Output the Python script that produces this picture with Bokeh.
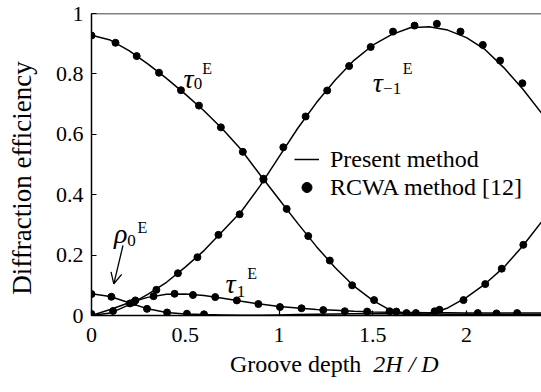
from bokeh.plotting import figure
from bokeh.layouts import column
from bokeh.models import (Range1d, Span, Label, Arrow, OpenHead, Legend, LegendItem,
                          FixedTicker, Div)
from bokeh.embed import file_html
from bokeh.resources import INLINE

# ---- Present method (lines) ----
line_x = [0, 0.1, 0.2, 0.3, 0.4, 0.5, 0.6, 0.7, 0.8, 0.9, 1.0, 1.1, 1.2, 1.3, 1.4, 1.5,
          1.6, 1.7, 1.8, 1.9, 2.0, 2.1, 2.2, 2.3, 2.4]
tau0_line = [0.928, 0.912, 0.877, 0.833, 0.785, 0.733, 0.678, 0.617, 0.548, 0.465, 0.385,
             0.305, 0.228, 0.158, 0.097, 0.05, 0.015, 0.003, 0.004, 0.025, 0.06, 0.105,
             0.16, 0.23, 0.31]
taum1_line = [0.0, 0.008, 0.035, 0.07, 0.11, 0.16, 0.215, 0.28, 0.345, 0.43, 0.525, 0.62,
              0.705, 0.78, 0.845, 0.895, 0.93, 0.953, 0.956, 0.945, 0.92, 0.88, 0.82,
              0.75, 0.67]
tau1_line = [0.0, 0.02, 0.042, 0.06, 0.07, 0.071, 0.066, 0.057, 0.047, 0.038, 0.03, 0.025,
             0.02, 0.017, 0.014, 0.012, 0.011, 0.01, 0.009, 0.009, 0.008, 0.008, 0.008,
             0.008, 0.008]
rho0_line = [0.072, 0.063, 0.042, 0.022, 0.01, 0.005, 0.003, 0.002, 0.001, 0.001, 0.002,
             0.003, 0.004, 0.005, 0.006, 0.006, 0.006, 0.005, 0.005, 0.004, 0.004, 0.003,
             0.003, 0.003, 0.003]

# ---- RCWA method [12] (dots) ----
tau0_x = [0, 0.128, 0.241, 0.36, 0.477, 0.573, 0.69, 0.807, 0.917, 1.041, 1.156, 1.271,
          1.39, 1.507, 1.59, 1.626, 1.83, 1.856, 1.984, 2.10, 2.188, 2.303]
tau0_y = [0.927, 0.903, 0.859, 0.804, 0.746, 0.695, 0.623, 0.542, 0.45, 0.353, 0.263,
          0.182, 0.10, 0.051, 0.014, 0.013, 0.014, 0.019, 0.051, 0.104, 0.155, 0.234]
taum1_x = [0, 0.115, 0.225, 0.346, 0.461, 0.565, 0.677, 0.79, 0.917, 1.023, 1.142, 1.257,
           1.374, 1.489, 1.608, 1.723, 1.842, 1.968, 2.087, 2.179, 2.298]
taum1_y = [0.005, 0.015, 0.044, 0.085, 0.14, 0.193, 0.267, 0.335, 0.453, 0.557, 0.659,
           0.745, 0.826, 0.889, 0.940, 0.960, 0.966, 0.940, 0.896, 0.844, 0.769]
tau1_x = [0.234, 0.331, 0.443, 0.541, 0.66, 0.775, 0.89, 1.005, 1.12, 1.236, 1.351, 1.47,
          1.68, 1.73, 2.06, 2.16, 2.27]
tau1_y = [0.05, 0.064, 0.072, 0.068, 0.061, 0.05, 0.038, 0.028, 0.024, 0.018, 0.014, 0.013,
          0.008, 0.008, 0.008, 0.007, 0.008]
rho0_x = [0, 0.106, 0.205, 0.296, 0.403, 0.509, 0.6]
rho0_y = [0.071, 0.062, 0.040, 0.022, 0.01, 0.006, 0.004]

x_ticks = [0, 0.5, 1, 1.5, 2]
x_tick_labels = ["0", "0.5", "1", "1.5", "2"]
y_ticks = [0, 0.2, 0.4, 0.6, 0.8, 1]
y_tick_labels = ["0", "0.2", "0.4", "0.6", "0.8", "1"]

FONT = "Liberation Serif"

p = figure(width=541, height=392, output_backend="svg", toolbar_location=None,
           x_range=Range1d(0, 2.4), y_range=Range1d(0, 1),
           min_border_left=91, min_border_right=0, min_border_top=13, min_border_bottom=77)
p.outline_line_color = None
p.grid.visible = False
p.background_fill_color = "white"

for ax in (p.xaxis[0], p.yaxis[0]):
    ax.axis_line_color = "black"
    ax.axis_line_width = 1.5
    ax.major_tick_in = 5
    ax.major_tick_out = 0
    ax.minor_tick_in = 0
    ax.minor_tick_out = 0
    ax.major_tick_line_color = "black"
    ax.major_tick_line_width = 1.2
    ax.major_label_text_font = FONT
    ax.major_label_text_font_style = "normal"
    ax.major_label_text_font_size = "22px"
    ax.major_label_text_color = "black"
    ax.major_label_standoff = 8

p.xaxis.major_label_standoff = 12
p.xaxis.ticker = FixedTicker(ticks=x_ticks)
p.xaxis.major_label_overrides = {t: l for t, l in zip(x_ticks, x_tick_labels)}
p.yaxis.ticker = FixedTicker(ticks=y_ticks)
p.yaxis.major_label_overrides = {t: l for t, l in zip(y_ticks, y_tick_labels)}

p.yaxis.axis_label = "Diffraction efficiency\u00a0\u00a0\u00a0\u00a0"
p.yaxis.axis_label_text_font = FONT
p.yaxis.axis_label_text_font_style = "normal"
p.yaxis.axis_label_text_font_size = "27px"
p.yaxis.axis_label_text_color = "black"
p.yaxis.axis_label_standoff = 16

# top border
p.add_layout(Span(location=1, dimension="width", line_color="black", line_width=1.5))

lw = 1.5
l0 = p.line(line_x, tau0_line, line_color="black", line_width=lw)
p.line(line_x, taum1_line, line_color="black", line_width=lw)
p.line(line_x, tau1_line, line_color="black", line_width=lw)
p.line(line_x, rho0_line, line_color="black", line_width=lw)

ds = 7
s0 = p.scatter(tau0_x, tau0_y, size=ds, color="black")
p.scatter(taum1_x, taum1_y, size=ds, color="black")
p.scatter(tau1_x, tau1_y, size=ds, color="black")
p.scatter(rho0_x, rho0_y, size=ds, color="black")

legend = Legend(items=[LegendItem(label="Present method", renderers=[l0]),
                       LegendItem(label="RCWA method [12]", renderers=[s0])],
                location=(203, 114), orientation="vertical",
                padding=0, margin=0, spacing=0, border_line_color=None,
                background_fill_alpha=0, glyph_width=25, glyph_height=28,
                label_height=28, label_standoff=11,
                label_text_font=FONT, label_text_font_size="24px",
                label_text_color="black")
p.add_layout(legend, "center")

# curve labels
def curve_label(sym, sub, x, y, sub_x, sub_y, sup_x, sup_y):
    p.add_layout(Label(x=x, y=y, text=sym, text_font=FONT, text_font_style="italic",
                       text_font_size="28px", text_baseline="alphabetic", text_color="black"))
    p.add_layout(Label(x=sub_x, y=sub_y, text=sub, text_font=FONT,
                       text_font_size="17px", text_baseline="alphabetic", text_color="black"))
    p.add_layout(Label(x=sup_x, y=sup_y, text="E", text_font=FONT,
                       text_font_size="16px", text_baseline="alphabetic", text_color="black"))

curve_label("τ", "0", 0.49, 0.785, 0.545, 0.768, 0.59, 0.818)
curve_label("τ", "−1", 1.50, 0.771, 1.555, 0.752, 1.66, 0.818)
curve_label("τ", "1", 0.715, 0.106, 0.775, 0.079, 0.83, 0.139)
curve_label("ρ", "0", 0.12, 0.272, 0.19, 0.248, 0.245, 0.291)

p.add_layout(Arrow(end=OpenHead(size=11, line_width=1.3, line_color="black"),
                   x_start=0.168, y_start=0.232, x_end=0.119, y_end=0.105,
                   line_color="black", line_width=1.3))

# x-axis title (mixed roman / italic), laid over the figure's bottom border
xtitle = Div(text="Groove depth&nbsp;&nbsp;<i>2H / D</i>", width=541, height=30,
             margin=(0, 0, 0, 0),
             styles={"font-family": "'Liberation Serif', serif", "font-size": "24px",
                     "line-height": "24px", "color": "black", "margin-top": "-40px",
                     "padding-left": "230px", "white-space": "nowrap",
                     "box-sizing": "border-box"})

open("out.html", "w").write(file_html(column(p, xtitle, spacing=0), INLINE))
